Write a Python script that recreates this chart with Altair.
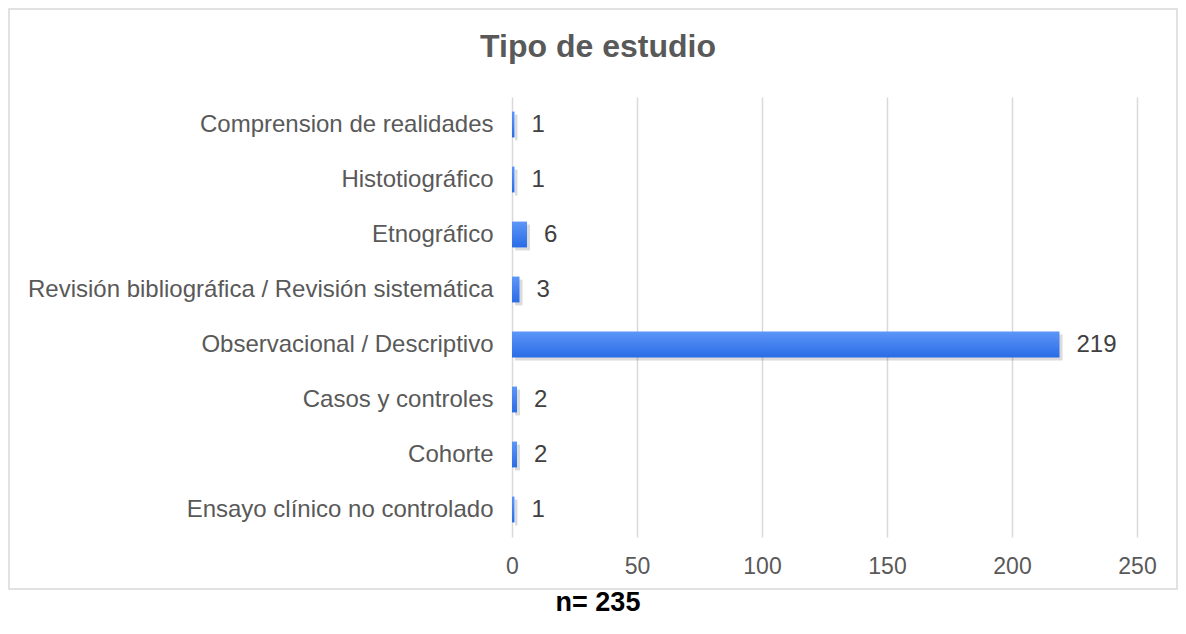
import altair as alt
import pandas as pd

categories = [
    "Comprension de realidades",
    "Histotiográfico",
    "Etnográfico",
    "Revisión bibliográfica / Revisión sistemática",
    "Observacional / Descriptivo",
    "Casos y controles",
    "Cohorte",
    "Ensayo clínico no controlado",
]
counts = [1, 1, 6, 3, 219, 2, 2, 1]
x_ticks = [0, 50, 100, 150, 200, 250]
title_text = "Tipo de estudio"
note_text = "n= 235"

df = pd.DataFrame({"tipo": categories, "n": counts})

FONT = "Liberation Sans"
W, H = 625, 440

y_enc = alt.Y(
    "tipo:N",
    sort=categories,
    scale=alt.Scale(paddingInner=0.53, paddingOuter=0.265),
    axis=alt.Axis(
        title=None, domain=False, ticks=False, grid=False,
        labelFontSize=24, labelColor="#595959", labelFont=FONT,
        labelPadding=19, labelLimit=600,
    ),
)
x_enc = alt.X(
    "n:Q",
    scale=alt.Scale(domain=[0, 250], nice=False),
    axis=alt.Axis(
        title=None, domain=False, ticks=False, grid=True,
        gridColor="#d9d9d9", gridWidth=1.5, values=x_ticks,
        labelFontSize=23, labelColor="#595959", labelFont=FONT,
        labelPadding=18, labelFlush=False,
    ),
)

base = alt.Chart(df)

shadow = base.mark_bar(color="#000000", opacity=0.14, xOffset=3, yOffset=3).encode(
    x=x_enc, y=y_enc
)

grad = alt.LinearGradient(
    gradient="linear",
    stops=[
        alt.GradientStop(color="#5d96f8", offset=0),
        alt.GradientStop(color="#2a6ce6", offset=1),
    ],
    x1=0, x2=0, y1=0, y2=1,
)
bars = base.mark_bar(color=grad).encode(x=x_enc, y=y_enc)

labels = base.mark_text(
    align="left", baseline="middle", dx=17, fontSize=24, font=FONT, color="#404040"
).encode(x=x_enc, y=y_enc, text="n:Q")

one = alt.Chart(pd.DataFrame({"k": [0]}))

frame = one.mark_rect(
    filled=False, stroke="#d9d9d9", strokeWidth=1.5
).encode(
    x=alt.value(-503), x2=alt.value(665),
    y=alt.value(-88), y2=alt.value(492),
)

title = one.mark_text(
    text=title_text, font=FONT, fontSize=32, fontWeight="bold",
    color="#595959", align="center", baseline="alphabetic",
).encode(x=alt.value(86), y=alt.value(-40))

note = one.mark_text(
    text=note_text, font=FONT, fontSize=27, fontWeight="bold",
    color="#000000", align="center", baseline="alphabetic",
).encode(x=alt.value(86), y=alt.value(514))

chart = (
    alt.layer(frame, shadow, bars, labels, title, note)
    .properties(
        width=W, height=H,
        autosize=alt.AutoSizeParams(type="none"),
        padding={"left": 504, "top": 89, "right": 41, "bottom": 82},
    )
    .configure_view(stroke=None)
)

chart.save("out.html", embed_options={"renderer": "svg", "actions": False})
